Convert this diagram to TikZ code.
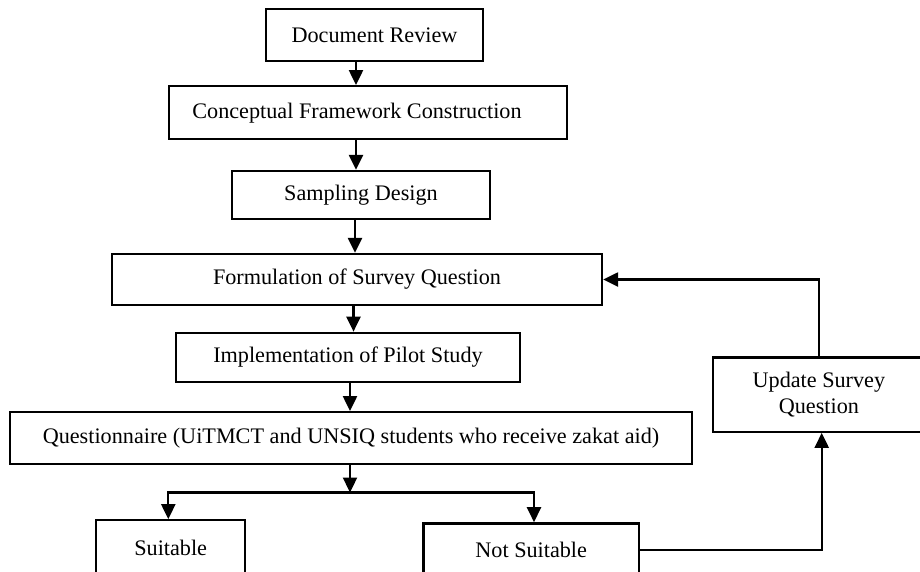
\documentclass[tikz,border=0pt]{standalone}
\usepackage{fontspec}
\setmainfont{Liberation Serif}
\usetikzlibrary{arrows.meta}
\begin{document}
\begin{tikzpicture}[x=1pt,y=1pt,
  box/.style={draw, line width=2.3pt, inner sep=0pt, align=center,
    font=\fontsize{22.2}{26.3}\selectfont},
  arr/.style={line width=2.3pt, -{Triangle[length=15pt,width=14pt]}}]
\useasboundingbox (0,0) rectangle (920,-571);
\fill[white] (0,0) rectangle (920,-571);
% nodes
\node[box, minimum width=217pt, minimum height=51.5pt] (doc) at (374.5,-35) {Document Review};
\node[box, minimum width=398pt, minimum height=53pt] (conc) at (368,-112.7) {Conceptual Framework Construction\hspace*{22pt}};
\node[box, minimum width=258pt, minimum height=48pt] (samp) at (361,-195) {Sampling Design};
\node[box, minimum width=490pt, minimum height=51pt] (form) at (357,-279.5) {Formulation of Survey Question};
\node[box, minimum width=344pt, minimum height=49pt] (impl) at (348,-357.3) {Implementation of Pilot Study};
\node[box, minimum width=682pt, minimum height=52pt] (quest) at (351,-438.2) {Questionnaire (UiTMCT and UNSIQ students who receive zakat aid)};
\node[box, minimum width=149pt, minimum height=56pt] (suit) at (170.7,-548.3) {Suitable};
\node[box, minimum width=215.7pt, minimum height=52.7pt] (nots) at (531.2,-549.7) {Not Suitable};
\node[box, minimum width=212pt, minimum height=74.2pt] (upd) at (818.9,-394.6) {Update Survey\\Question};
% column coordinates
\coordinate (c1) at (356,0);
\coordinate (c2) at (355,0);
\coordinate (c3) at (353.5,0);
\coordinate (c4) at (350,0);
\coordinate (split) at (350,-492.5);
% connectors
\draw[arr] (doc.south -| c1) -- (conc.north -| c1);
\draw[arr] (conc.south -| c1) -- (samp.north -| c1);
\draw[arr] (samp.south -| c2) -- (form.north -| c2);
\draw[arr] (form.south -| c3) -- (impl.north -| c3);
\draw[arr] (impl.south -| c4) -- (quest.north -| c4);
\draw[arr] (quest.south -| c4) -- (split);
\draw[arr] (split) -| ([xshift=-2.4pt]suit.north);
\draw[arr] (split) -| ([xshift=2.8pt]nots.north);
\draw[arr] (nots.east) -| ([xshift=2.8pt]upd.south);
\draw[arr] (upd.north) |- (form.east);
\end{tikzpicture}
\end{document}
